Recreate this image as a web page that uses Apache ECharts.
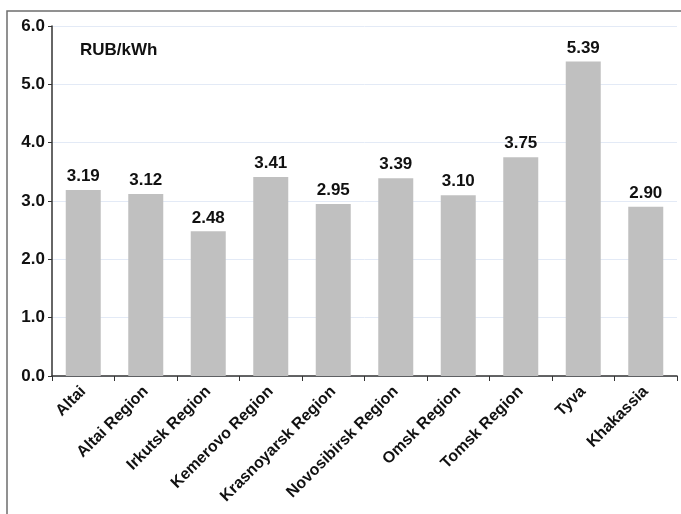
<!DOCTYPE html>
<html>
<head>
<meta charset="utf-8">
<script src="https://cdn.jsdelivr.net/npm/echarts@6/dist/echarts.min.js"></script>
<style>
  html, body { margin: 0; padding: 0; background: #fff; }
  #chart { width: 681px; height: 514px; }
</style>
</head>
<body>
<div id="chart"></div>
<script>
// 地区
const regions = [
  "Altai", "Altai Region", "Irkutsk Region", "Kemerovo Region", "Krasnoyarsk Region",
  "Novosibirsk Region", "Omsk Region", "Tomsk Region", "Tyva", "Khakassia"
];
// 电价 RUB/kWh
const tariffs = [3.19, 3.12, 2.48, 3.41, 2.95, 3.39, 3.10, 3.75, 5.39, 2.90];
const unitLabel = "RUB/kWh";

const chart = echarts.init(document.getElementById("chart"));
const font = "Liberation Sans, Arial, sans-serif";

chart.setOption({
  animation: false,
  grid: { left: 52, right: 4, top: 26, bottom: 138, containLabel: false },
  graphic: [
    {
      type: "rect",
      shape: { x: 7, y: 11, width: 700, height: 600 },
      style: { fill: "none", stroke: "#6e6e6e", lineWidth: 1.5 }
    },
    {
      type: "text",
      left: 80,
      top: 42,
      style: { text: unitLabel, font: "bold 17px " + font, fill: "#111" }
    }
  ],
  xAxis: {
    type: "category",
    data: regions,
    axisLine: { lineStyle: { color: "#333", width: 1.5 } },
    axisTick: { show: true, length: 5, lineStyle: { color: "#333" } },
    axisLabel: {
      interval: 0,
      rotate: 45,
      color: "#111",
      fontFamily: font,
      fontWeight: "bold",
      fontSize: 16,
      margin: 13
    }
  },
  yAxis: {
    type: "value",
    min: 0,
    max: 6,
    interval: 1,
    axisLine: { show: true, lineStyle: { color: "#333", width: 1.5 } },
    axisTick: { show: true, length: 4, lineStyle: { color: "#333" } },
    splitLine: { lineStyle: { color: "#e3eaf6", width: 1 } },
    axisLabel: {
      color: "#111",
      fontFamily: font,
      fontWeight: "bold",
      fontSize: 17,
      margin: 7,
      formatter: (v) => v.toFixed(1)
    }
  },
  series: [
    {
      type: "bar",
      data: tariffs,
      barCategoryGap: "44%",
      itemStyle: { color: "#c0c0c0" },
      label: {
        show: true,
        position: "top",
        distance: 5,
        color: "#111",
        fontFamily: font,
        fontWeight: "bold",
        fontSize: 17,
        formatter: (p) => p.value.toFixed(2)
      }
    }
  ]
});
</script>
</body>
</html>
